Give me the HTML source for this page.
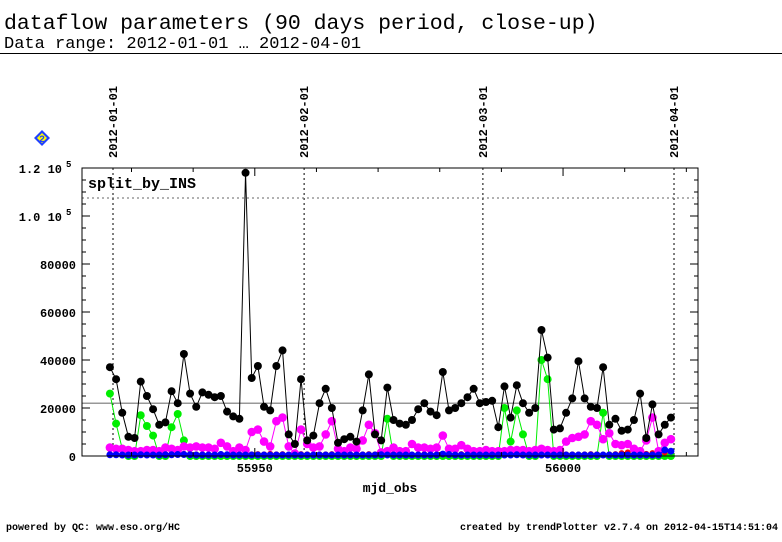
<!DOCTYPE html>
<html><head><meta charset="utf-8"><style>
html,body{margin:0;padding:0;background:#fff;width:782px;height:542px;overflow:hidden}
svg text{font-family:"Liberation Mono","DejaVu Sans Mono",monospace}
</style></head><body>
<svg id="chart" width="782" height="542" xmlns="http://www.w3.org/2000/svg">
<text x="4" y="29" font-size="21.5">dataflow parameters (90 days period, close-up)</text>
<text x="4" y="48" font-size="17">Data range: 2012-01-01 … 2012-04-01</text>
<line x1="0" y1="53.5" x2="782" y2="53.5" stroke="#000" stroke-width="1"/>
<g><polygon points="42,130 50,138 42,146 34,138" fill="#2040ff"/><polygon points="42,133 47,138 42,143 37,138" fill="#ff0"/><text x="42" y="142" font-size="10" text-anchor="middle" font-weight="bold" fill="#2040ff">2</text></g>
<text x="88" y="188" font-size="15" font-weight="bold">split_by_INS</text>
<text x="390" y="492" font-size="13" font-weight="bold" text-anchor="middle">mjd_obs</text>
<text x="6" y="530" font-size="10" font-weight="bold">powered by QC: www.eso.org/HC</text>
<text x="778" y="530" font-size="10" font-weight="bold" text-anchor="end">created by trendPlotter v2.7.4 on 2012-04-15T14:51:04</text>
<g id="plot"></g>
</svg>
<script>
const startDay = 55926.5;
const dateLabels = ["2012-01-01","2012-02-01","2012-03-01","2012-04-01"];
const dateMjd = [55927,55958,55987,56018];
const yTicks = [0,20000,40000,60000,80000,100000,120000];
const yTickLabels = ["0","20000","40000","60000","80000","1.0 10","1.2 10"];
const xTicks = [55950,56000];
const meanValue = 22000;
const upperValue = 107500;
const blackVals = [37000,32000,18000,8000,7500,31000,25000,19500,13000,14000,27000,22000,42500,26000,20500,26500,25500,24500,25000,18500,16500,15500,118000,32500,37500,20500,19000,37500,44000,9000,5000,32000,6500,8500,22000,28000,20000,5500,7000,8000,6000,19000,34000,9000,6500,28500,15000,13500,13000,15000,19500,22000,18500,17000,35000,19000,20000,22000,24500,28000,22000,22500,23000,12000,29000,16000,29500,22000,18000,20000,52500,41000,11000,11500,18000,24000,39500,24000,20500,20000,37000,13000,15500,10500,11000,15000,26000,7500,21500,9000,13000,16000];
const magentaVals = [3500,3000,3000,2500,2000,2000,2500,2500,2000,3500,3000,2500,4000,3500,4000,3500,3500,3000,5500,4000,2000,3500,2500,10000,11000,6000,4000,14500,16000,4000,1000,11000,5000,3500,4000,9000,14500,3000,2000,3500,3000,6500,13000,9500,1500,2000,3500,2000,2000,5000,3500,3500,3000,3500,8500,3000,3000,4500,3000,2000,2000,2500,2000,2000,2000,2500,2500,2500,2000,2500,3000,2500,2000,2500,6000,7500,8000,9000,14500,13000,7000,9500,5000,4500,5000,3000,2000,6500,16000,2000,5500,7000];
const greenVals = [26000,13500,3000,0,0,17000,12500,8500,0,0,12000,17500,6500,0,0,0,0,0,0,0,0,0,0,0,0,0,0,0,0,0,0,0,0,0,0,0,0,0,0,0,0,0,0,0,0,15500,0,0,0,0,0,0,0,0,0,0,0,0,0,0,0,0,0,0,20000,6000,19000,9000,0,0,40000,32000,0,0,0,0,0,0,0,0,18000,0,0,0,0,0,0,0,0,0,0,0];
const redVals = [800,800,700,600,600,700,700,800,700,800,900,1200,900,800,700,700,600,700,800,700,600,700,600,700,800,700,900,700,800,600,700,800,700,600,700,700,800,600,700,700,800,700,800,700,600,700,700,800,700,600,700,800,700,700,600,700,700,800,700,600,700,800,700,600,700,800,1200,700,600,700,800,700,600,800,700,700,600,700,800,700,600,700,800,1200,1500,700,800,900,1200,700,1500,2000];
const blueVals = [500,500,400,400,400,500,400,400,400,500,500,600,600,500,400,400,400,400,600,500,400,400,400,400,400,400,400,400,400,400,400,400,400,400,400,400,400,400,400,400,400,400,400,400,500,400,400,400,400,400,400,400,400,400,800,600,400,400,400,400,400,400,400,400,400,400,500,400,400,400,400,400,400,400,400,400,400,400,400,400,400,400,400,400,400,400,400,400,400,400,2500,2000];

const L=82,R=698,T=168,B=456;
const xs=d=>113+(d-55927)*6.165;
const ys=v=>B-(v/120000)*(B-T);
const NS="http://www.w3.org/2000/svg";
const g=document.getElementById('plot');
function mk(tag,attrs,parent){const e=document.createElementNS(NS,tag);for(const k in attrs)e.setAttribute(k,attrs[k]);(parent||g).appendChild(e);return e;}

dateMjd.forEach((d,i)=>{
  const x=xs(d);
  const ln=mk('line',{x1:x,y1:T,x2:x,y2:B,stroke:'#000','stroke-dasharray':'2,3','stroke-width':1});
  
  
  const t=mk('text',{x:0,y:0,'font-size':12,'font-weight':'bold',transform:`translate(${x+4},158) rotate(-90)`});
  t.textContent=dateLabels[i];
  
  
});
const ul=mk('line',{x1:L,y1:ys(upperValue),x2:R,y2:ys(upperValue),stroke:'#666','stroke-dasharray':'2,3'});


const ml=mk('line',{x1:L,y1:ys(meanValue),x2:R,y2:ys(meanValue),stroke:'#777','stroke-width':1.2});



function series(vals,color,name,r){
  const pts=vals.map((v,i)=>[xs(startDay+i),ys(v)]);
  const pl=mk('polyline',{points:pts.map(p=>p.join(',')).join(' '),fill:'none',stroke:color,'stroke-width':1});
  
  
  pts.forEach(p=>{const c=mk('circle',{cx:p[0],cy:p[1],r:r,fill:color});
    
    });
}
series(greenVals,'#00ee00','green-series',4);
series(redVals,'#ff0000','red-series',3);
series(magentaVals,'#ff00ff','magenta-series',4.3);
series(blueVals,'#0000ff','blue-series',3.5);
series(blackVals,'#000','black-series',4);

const fr=mk('rect',{x:L,y:T,width:R-L,height:B-T,fill:'none',stroke:'#000','stroke-width':1});


for(let v=0;v<=120000;v+=5000){
  const y=ys(v),len=(v%20000===0)?8:4;
  mk('line',{x1:L,y1:y,x2:L+len,y2:y,stroke:'#000'});
  mk('line',{x1:R,y1:y,x2:R-len,y2:y,stroke:'#000'});
}
yTicks.forEach((v,i)=>{
  const t=mk('text',{x:v>=100000?62:76,y:ys(v)+5,'font-size':12,'font-weight':'bold','text-anchor':'end'});
  t.textContent=yTickLabels[i];
  
  
  if(v>=100000){const s=mk('text',{x:66,y:ys(v)-1,'font-size':9,'font-weight':'bold'});s.textContent='5';
    
    }
});
for(let d=55930;d<=56020;d+=10){
  const x=xs(d),len=(d%50===0)?8:4;
  mk('line',{x1:x,y1:B,x2:x,y2:B-len,stroke:'#000'});
  mk('line',{x1:x,y1:T,x2:x,y2:T+len,stroke:'#000'});
}
xTicks.forEach(d=>{
  const t=mk('text',{x:xs(d),y:472,'font-size':12,'font-weight':'bold','text-anchor':'middle'});
  t.textContent=String(d);
  
  
});
</script>
</body></html>
